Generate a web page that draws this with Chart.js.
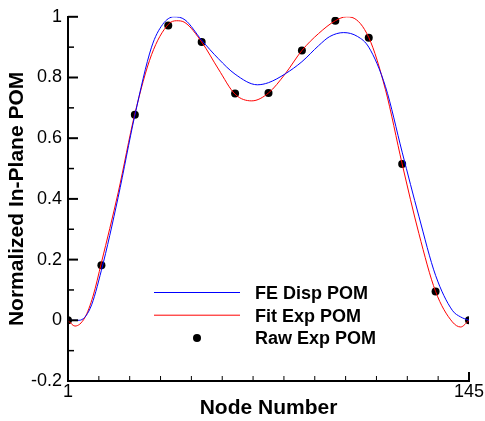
<!DOCTYPE html>
<html lang="en">
  <head>
    <meta charset="UTF-8" />
    <script src="https://cdn.jsdelivr.net/npm/chart.js"></script>
    <style>
      body { margin: 0; background: #fff; }
    </style>
  </head>
  <body>
    <canvas id="grafico" width="485" height="421"></canvas>
    <script>
      // FE displacement curve (blue)
      const feNodes = [1, 5, 9, 13, 19, 25, 31, 35, 39, 43, 49, 55, 61, 69, 73, 79, 85, 91, 95, 100, 105, 109, 115, 121, 127, 133, 139, 142, 145];
      const feValues = [0, 0.0, 0.04, 0.165, 0.405, 0.675, 0.9, 0.975, 1.0, 0.99, 0.923, 0.862, 0.811, 0.776, 0.783, 0.812, 0.852, 0.905, 0.935, 0.948, 0.935, 0.9, 0.77, 0.554, 0.343, 0.148, 0.033, 0.011, 0];

      // fitted experimental curve (red)
      const fitNodes = [1, 3.5, 7, 10, 13, 19, 25, 31, 37, 40, 43, 49, 55, 61, 67, 73, 79, 85, 91, 97, 101, 103, 109, 115, 121, 127, 133, 139, 142, 145];
      const fitValues = [0, -0.019, 0.008, 0.08, 0.19, 0.42, 0.68, 0.875, 0.975, 0.987, 0.981, 0.917, 0.828, 0.745, 0.723, 0.749, 0.812, 0.889, 0.945, 0.987, 1.0, 0.998, 0.932, 0.76, 0.515, 0.286, 0.095, -0.005, -0.022, 0];

      // raw experimental points
      const rawNodes = [1, 13, 25, 37, 49, 61, 73, 85, 97, 109, 121, 133, 145];
      const rawValues = [0, 0.181, 0.677, 0.971, 0.917, 0.747, 0.749, 0.889, 0.987, 0.931, 0.515, 0.095, 0];

      const seriesNames = ["FE Disp POM", "Fit Exp POM", "Raw Exp POM"];
      const xTickLabels = [1, 145];
      const xMinorSteps = 13;
      const yMajorTicks = [-0.2, 0, 0.2, 0.4, 0.6, 0.8, 1];
      const yMinorTicks = [-0.1, 0.1, 0.3, 0.5, 0.7, 0.9];

      function pares(nos, valores) {
        return nos.map((n, i) => ({ x: n, y: valores[i] }));
      }

      Chart.defaults.font.family = "'Liberation Sans', Arial, sans-serif";
      Chart.defaults.color = "#000";

      // tick marks pointing into the plot
      const ticksDentro = {
        id: "ticksDentro",
        afterDatasetsDraw(chart) {
          const ctx = chart.ctx;
          const sx = chart.scales.x;
          const sy = chart.scales.y;
          const a = chart.chartArea;
          ctx.save();
          ctx.strokeStyle = "#000";
          function marca(x1, y1, x2, y2, w) {
            ctx.lineWidth = w;
            ctx.beginPath();
            ctx.moveTo(x1, y1);
            ctx.lineTo(x2, y2);
            ctx.stroke();
          }
          yMajorTicks.forEach((v) => {
            const p = sy.getPixelForValue(v);
            marca(a.left, p, a.left + 10, p, 2);
          });
          yMinorTicks.forEach((v) => {
            const p = sy.getPixelForValue(v);
            marca(a.left, p, a.left + 6, p, 1.5);
          });
          const xMin = xTickLabels[0];
          const xMax = xTickLabels[xTickLabels.length - 1];
          for (let k = 0; k <= xMinorSteps; k++) {
            const v = xMin + (k * (xMax - xMin)) / xMinorSteps;
            const p = sx.getPixelForValue(v);
            const major = k === 0 || k === xMinorSteps;
            marca(p, a.bottom, p, a.bottom - (major ? 9 : 5), major ? 2 : 1);
          }
          ctx.restore();
        },
      };

      // legend inside the plot area
      const legendaInterna = {
        id: "legendaInterna",
        afterDraw(chart) {
          const ctx = chart.ctx;
          ctx.save();
          ctx.font = "bold 18px 'Liberation Sans', Arial, sans-serif";
          ctx.textBaseline = "alphabetic";
          chart.data.datasets.forEach((ds, i) => {
            const yLinha = 292.5 + i * 22.7;
            if (ds.showLine === false) {
              ctx.fillStyle = ds.backgroundColor;
              ctx.beginPath();
              ctx.arc(197, yLinha, ds.pointRadius, 0, Math.PI * 2);
              ctx.fill();
            } else {
              ctx.strokeStyle = ds.borderColor;
              ctx.lineWidth = ds.borderWidth;
              ctx.beginPath();
              ctx.moveTo(154, yLinha);
              ctx.lineTo(240, yLinha);
              ctx.stroke();
            }
            ctx.fillStyle = "#000";
            ctx.fillText(ds.label, 255, yLinha + 6.3);
          });
          ctx.restore();
        },
      };

      const config = {
        type: "line",
        data: {
          datasets: [
            {
              label: seriesNames[0],
              data: pares(feNodes, feValues),
              borderColor: "#0000ff",
              borderWidth: 1,
              pointRadius: 0,
              cubicInterpolationMode: "monotone",
              fill: false,
            },
            {
              label: seriesNames[1],
              data: pares(fitNodes, fitValues),
              borderColor: "#ff0000",
              borderWidth: 1,
              pointRadius: 0,
              cubicInterpolationMode: "monotone",
              fill: false,
            },
            {
              label: seriesNames[2],
              data: pares(rawNodes, rawValues),
              showLine: false,
              pointRadius: 4,
              backgroundColor: "#000",
              borderColor: "#000",
              borderWidth: 0,
            },
          ],
        },
        options: {
          responsive: false,
          animation: false,
          layout: { padding: { top: 16, right: 16, bottom: 0, left: 0 } },
          plugins: {
            legend: { display: false },
            tooltip: { enabled: false },
          },
          scales: {
            x: {
              type: "linear",
              min: xTickLabels[0],
              max: xTickLabels[xTickLabels.length - 1],
              afterBuildTicks: (scale) => {
                scale.ticks = xTickLabels.map((v) => ({ value: v }));
              },
              afterFit: (scale) => {
                scale.height = 40;
              },
              grid: { drawOnChartArea: false, drawTicks: false },
              border: { display: true, color: "#000", width: 2 },
              ticks: {
                font: { size: 18 },
                color: "#000",
                padding: 0,
                maxRotation: 0,
                autoSkip: false,
              },
              title: {
                display: true,
                text: "Node Number",
                font: { size: 21, weight: "bold" },
                color: "#000",
                padding: { top: 0, bottom: 0 },
              },
            },
            y: {
              min: -0.2,
              max: 1,
              afterBuildTicks: (scale) => {
                scale.ticks = yMajorTicks.map((v) => ({ value: v }));
              },
              afterFit: (scale) => {
                scale.width = 68;
              },
              grid: { drawOnChartArea: false, drawTicks: false },
              border: { display: true, color: "#000", width: 2 },
              ticks: {
                font: { size: 18 },
                color: "#000",
                padding: 6,
                callback: (v) => String(+Number(v).toFixed(1)),
              },
              title: {
                display: true,
                text: "Normalized In-Plane POM",
                font: { size: 21, weight: "bold" },
                color: "#000",
                padding: { top: 5, bottom: 0 },
              },
            },
          },
        },
        plugins: [ticksDentro, legendaInterna],
      };

      new Chart(document.getElementById("grafico"), config);
    </script>
  </body>
</html>
